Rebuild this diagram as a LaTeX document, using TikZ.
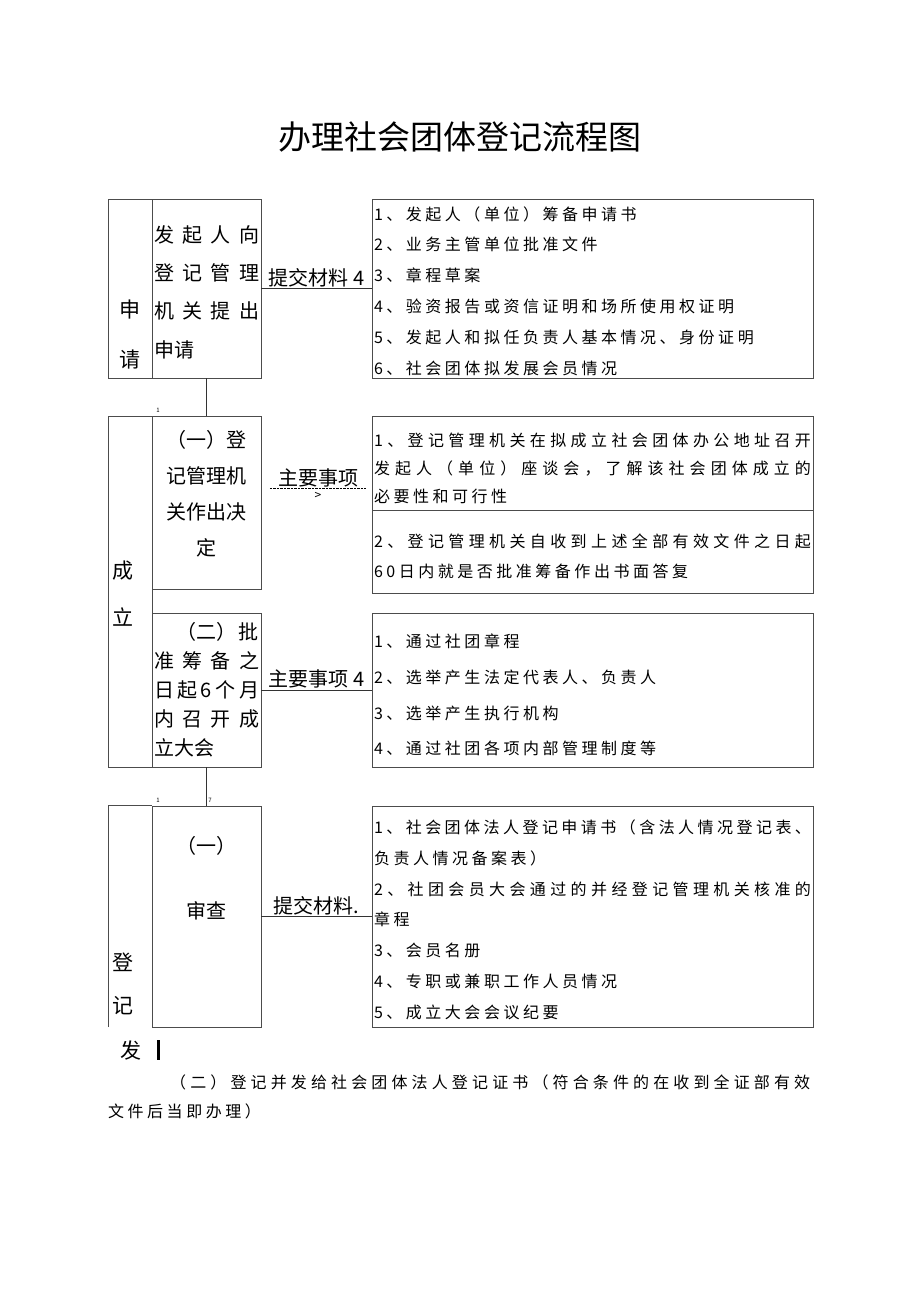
\documentclass[tikz,border=0pt]{standalone}
\usepackage{fontspec}
\setmainfont{Noto Sans CJK SC}
\newfontfamily\listfont[LetterSpace=22]{Noto Sans CJK SC}
\newfontfamily\plainfont{Noto Sans CJK SC}
\usetikzlibrary{positioning}

\makeatletter
%% spread the characters of one line over a given width
\newcommand\jline[2]{\makebox[#1][s]{\plainfont\jl@a#2\relax}}
\def\jl@a#1{#1\futurelet\jl@n\jl@b}
\def\jl@b{\ifx\jl@n\relax\expandafter\@gobble\else\hfill\expandafter\jl@a\fi}
\makeatother

\begin{document}
\begin{tikzpicture}[
    x=1pt, y=-1pt,
    %% Columns:  label 108-152   step 152-261   list 372-813
    %% Rows:     申请 199-378    成立 416-767   登记 806-1027
    boxline/.style={draw=black!70, line width=0.8pt},
    colbox/.style={boxline, minimum width=44pt, inner sep=0pt},
    stepbox/.style={boxline, minimum width=109pt, inner sep=2pt,
                    font=\fontsize{20}{#1}\selectfont},
    stepbox/.default=36pt,
    listrule/.initial=24pt,
    listbox/.style={boxline, minimum width=441pt, text width=437pt,
                    inner xsep=2pt, inner ysep=1pt, align=left,
                    font=\listfont\fontsize{16}{#1}\selectfont,
                    execute at begin node=\rule{0pt}{\pgfkeysvalueof{/tikz/listrule}}},
    listbox/.default=31pt,
    coltxt/.style={align=center, inner sep=0pt, font=\fontsize{21}{#1}\selectfont},
    coltxt/.default=24pt,
    link/.style={draw=black!80, line width=0.8pt},
    linktxt/.style={above, inner sep=1pt, font=\fontsize{20}{24}\selectfont},
    tinytxt/.style={inner sep=0pt, font=\fontsize{6}{6}\selectfont},
]
\path[use as bounding box, fill=white] (0,0) rectangle (920,1301);

%% ── Title ────────────────────────────────────────────────────────────────
\node[font=\fontsize{33}{40}\selectfont] (title) at (460,137) {办理社会团体登记流程图};

%% ── 申请 ─────────────────────────────────────────────────────────────────
\node[colbox, minimum height=179pt] (sqcol) at (130,288.5) {};
\node[coltxt=50pt] (sqname) at (130,335) {申\\请};
\node[stepbox=38.3pt, minimum height=179pt, align=left] (sqbox) at (206.5,288.5)
    {\rule{0pt}{24pt}\jline{105pt}{发起人向}\\\jline{105pt}{登记管理}\\\jline{105pt}{机关提出}\\申请};
\node[listrule=19pt, listbox=30.9pt, minimum height=179pt] (sqlist) at (592.5,288.5)
    {1、发起人（单位）筹备申请书\\
     2、业务主管单位批准文件\\
     3、章程草案\\
     4、验资报告或资信证明和场所使用权证明\\
     5、发起人和拟任负责人基本情况、身份证明\\
     6、社会团体拟发展会员情况};

%% ── 成立 ─────────────────────────────────────────────────────────────────
\node[colbox, minimum height=351pt] (clcol) at (130,591.5) {};
\node[coltxt=47pt] (clname) at (123,593.5) {成\\立};
\node[stepbox=36pt, minimum height=173pt, align=center, text depth=20pt] (clbox1) at (206.5,502.5)
    {（一）登\\记管理机\\关作出决\\定};
\node[stepbox=29pt, minimum height=154pt, align=left] (clbox2) at (206.5,690)
    {\makebox[105pt][r]{（二）\hspace{3pt}批}\\\jline{105pt}{准筹备之}\\
     \jline{105pt}{日起6个月}\\\jline{105pt}{内召开成}\\立大会};
\node[listbox=28pt, minimum height=94pt] (cllist1a) at (592.5,463)
    {\jline{437pt}{1、登记管理机关在拟成立社会团体办公地址召开}\\
     \jline{437pt}{发起人（单位）座谈会，了解该社会团体成立的}\\
     必要性和可行性};
\node[listbox=30pt, minimum height=83pt] (cllist1b) at (592.5,551.5)
    {\jline{437pt}{2、登记管理机关自收到上述全部有效文件之日起}\\
     60日内就是否批准筹备作出书面答复};
\node[listbox=35.7pt, minimum height=154pt] (cllist2) at (592.5,690)
    {1、通过社团章程\\
     2、选举产生法定代表人、负责人\\
     3、选举产生执行机构\\
     4、通过社团各项内部管理制度等};

%% ── 登记 ─────────────────────────────────────────────────────────────────
\node[stepbox, minimum height=221pt] (djbox) at (206.5,916.5) {};
\node[align=center, font=\fontsize{20}{65}\selectfont] (djtxt) at (206.5,878.5) {（一）\\审查};
\coordinate (djfoot) at (108,1027);
\draw[boxline] (djfoot) |- (djbox.north west);
\node[coltxt=43pt] (djname) at (123,983.5) {登\\记};
\node[coltxt] (djname2) at (131,1050) {发};
\node[fill=black, minimum width=3pt, minimum height=20pt, inner sep=0pt] (djbar) at (158,1050) {};
\node[listrule=20pt, listbox=30.8pt, minimum height=221pt] (djlist) at (592.5,916.5)
    {\jline{437pt}{1、社会团体法人登记申请书（含法人情况登记表、}\\
     负责人情况备案表）\\
     \jline{437pt}{2、社团会员大会通过的并经登记管理机关核准的}\\
     章程\\
     3、会员名册\\
     4、专职或兼职工作人员情况\\
     5、成立大会会议纪要};

%% ── Small marks ──────────────────────────────────────────────────────────
\node[tinytxt] (mk1) at (158,410) {1};
\node[tinytxt] (mk2) at (158,800) {1};
\node[tinytxt] (mk3) at (210,800) {7};

%% ── Connectors ───────────────────────────────────────────────────────────
\draw[link] (sqbox.south) -- (clbox1.north);
\draw[link] (sqbox.east) -- node[linktxt] (sqlink) {提交材料 4} (sqlist.west);
\node[font=\fontsize{20}{24}\selectfont, minimum width=96pt, inner sep=1pt] (cllink1) at (318,478) {主要事项};
\draw[dash pattern=on 2.5pt off 1pt, line width=0.6pt] (cllink1.south west) -- (cllink1.south east);
\node[font=\fontsize{12}{12}\selectfont, inner sep=0pt, below=4pt of cllink1] (clarrow) {>};
\draw[link] (clbox2.east) -- node[linktxt] (cllink2) {主要事项 4} (cllist2.west);
\draw[link] (clbox2.south) -- (djbox.north);
\draw[link] (djbox.east) -- node[linktxt] (djlink) {提交材料.} (djlist.west);

%% ── Closing note ─────────────────────────────────────────────────────────
\node[anchor=north west, align=left, inner sep=0pt,
      font=\listfont\fontsize{16}{29}\selectfont] (note) at (108,1075)
    {\hspace*{62pt}\jline{640pt}{（二）登记并发给社会团体法人登记证书（符合条件的在收到全证部有效}\\
     文件后当即办理）};

\end{tikzpicture}
\end{document}
